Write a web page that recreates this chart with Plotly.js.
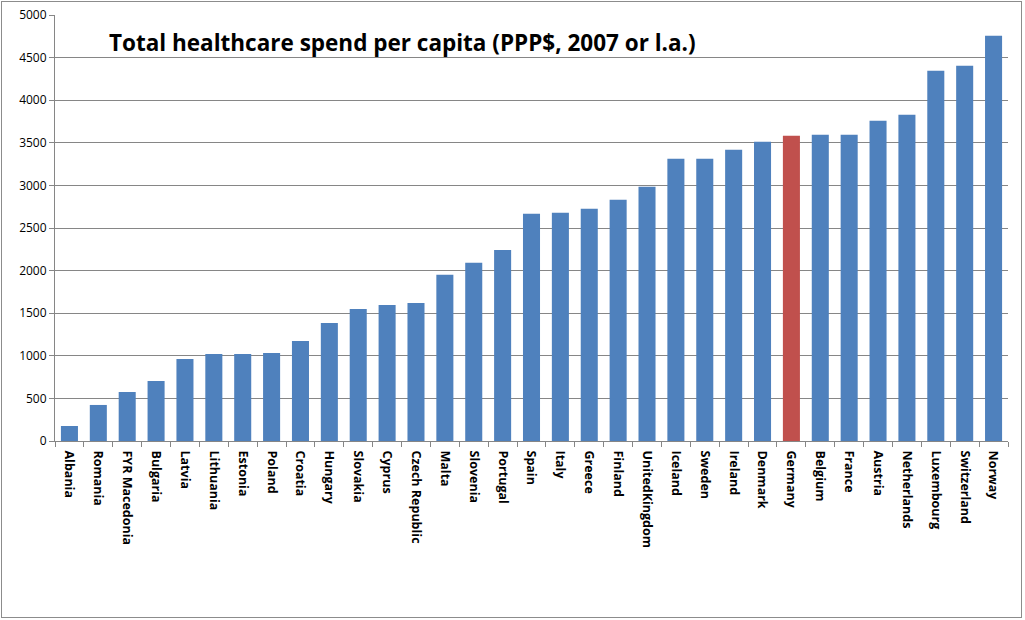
<!DOCTYPE html>
<html>
<head>
<meta charset="utf-8">
<script src="https://cdn.plot.ly/plotly-3.0.1.min.js"></script>
<style>
html,body{margin:0;padding:0;background:#fff;}
#wrap{position:relative;width:1025px;height:620px;}
#chart{position:absolute;left:0;top:0;width:1025px;height:620px;}
#frame{position:absolute;left:1px;top:1px;width:1019px;height:615px;border:1px solid #8c8c8c;pointer-events:none;}
</style>
</head>
<body>
<div id="wrap"><div id="chart"></div><div id="frame"></div></div>
<script>
const countries = ["Albania","Romania","FYR Macedonia","Bulgaria","Latvia","Lithuania","Estonia","Poland","Croatia","Hungary","Slovakia","Cyprus","Czech Republic","Malta","Slovenia","Portugal","Spain","Italy","Greece","Finland","UnitedKingdom","Iceland","Sweden","Ireland","Denmark","Germany","Belgium","France","Austria","Netherlands","Luxembourg","Switzerland","Norway"];
const spend = [176,423,575,705,963,1022,1022,1034,1175,1386,1550,1597,1621,1950,2091,2243,2666,2678,2725,2831,2983,3312,3312,3418,3512,3582,3594,3594,3759,3829,4346,4405,4757];
const highlight = "Germany";
const titleText = "Total healthcare spend per capita (PPP$, 2007 or l.a.)";
const yTicks = [0,500,1000,1500,2000,2500,3000,3500,4000,4500,5000];

const colors = countries.map(c => c === highlight ? "#C0504D" : "#4F81BD");

const trace = {
  type: "bar",
  x: countries,
  y: spend,
  marker: {color: colors, line: {width: 0}},
  hoverinfo: "x+y"
};

const layout = {
  width: 1025, height: 620,
  margin: {l: 55, r: 17, t: 15, b: 179, pad: 0},
  paper_bgcolor: "#ffffff",
  plot_bgcolor: "#ffffff",
  showlegend: false,
  bargap: 0.41,
  font: {family: "Liberation Sans, Arial, sans-serif", color: "#000"},
  xaxis: {
    type: "category",
    tickangle: 90,
    tickfont: {family: "Open Sans, Liberation Sans, sans-serif", size: 12.5, weight: "bold", color: "#000"},
    ticklabelstandoff: 6,
    showline: true, linecolor: "#868686", linewidth: 1,
    ticks: "outside", ticklen: 5, tickcolor: "#868686", tickson: "boundaries",
    showgrid: false, zeroline: false, automargin: false
  },
  yaxis: {
    range: [0, 5000],
    tickvals: yTicks,
    ticktext: yTicks.map(String),
    tickfont: {family: "Open Sans, Liberation Sans, sans-serif", size: 12, color: "#000"},
    showline: true, linecolor: "#868686", linewidth: 1,
    ticks: "outside", ticklen: 5, tickcolor: "#868686",
    showgrid: true, gridcolor: "#868686", gridwidth: 1,
    zeroline: false, automargin: false, fixedrange: true
  },
  annotations: [{
    text: titleText,
    xref: "paper", yref: "paper",
    x: 0.055, y: 0.935, xanchor: "left", yanchor: "middle",
    showarrow: false,
    font: {family: "Open Sans, Liberation Sans, sans-serif", size: 22.5, weight: "bold", color: "#000"}
  }]
};

Plotly.newPlot("chart", [trace], layout, {displayModeBar: false, staticPlot: true});
</script>
</body>
</html>
